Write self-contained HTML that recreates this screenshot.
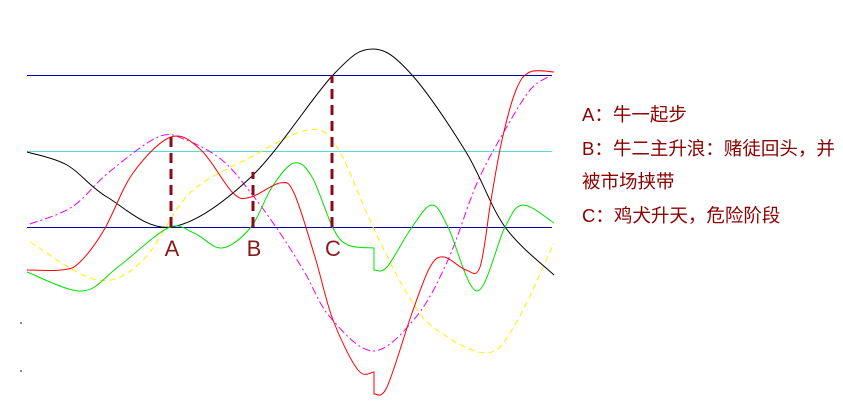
<!DOCTYPE html>
<html><head><meta charset="utf-8"><style>
body{margin:0;background:#fff;width:843px;height:413px;overflow:hidden;font-family:"Liberation Sans","Noto Sans CJK SC",sans-serif}
#legend{position:absolute;left:582px;top:98px;color:#8b0000;font-size:18.5px;line-height:33.5px;white-space:nowrap}
</style></head><body>
<svg id="chart" width="843" height="413" style="position:absolute;left:0;top:0">
<g id="lines"></g>
<circle cx="21" cy="323" r="0.8" fill="#000"/>
<circle cx="21" cy="371" r="0.8" fill="#000"/>
</svg>
<div id="legend">
<div>A：牛一起步</div>
<div>B：牛二主升浪：赌徒回头，并<br>被市场挟带</div>
<div>C：鸡犬升天，危险阶段</div>
</div>
<script>
const refLevels=[152,76,0];
const blackT=[0,40,80,144,224,306,346,385,439,478,527];
const blackV=[75,62,30,0,50,152,178,152,75,0,-48];
const redT1=[0,34,52,77,106,144,174,206,224,253,267,288,306,331,347];
const redV1=[-43,-43,-36,-3,54,90,77,34,30,44,34,-30,-93,-143,-145];
const redT2=[347,360,385,403,417,439,453,464,475,489,503,527];
const redV2=[-167,-160,-86,-40,-30,-43,-40,27,87,137,155,155];
const greenT1=[0,55,91,141,167,195,224,245,267,285,306,321,347];
const greenV1=[-45,-64,-40,-1,-6,-21,0,40,64,50,-1,-18,-21];
const greenT2=[347,360,385,405,421,450,478,496,527];
const greenV2=[-43,-40,0,22,0,-64,0,22,4];
const magT=[3,45,81,131,159,195,224,253,278,303,346,389,421,450,478,503,521];
const magV=[3,20,54,90,87,67,34,-6,-46,-90,-124,-90,-33,44,97,137,150];
const yelT=[3,70,116,163,224,281,310,346,382,410,460,489,527];
const yelV=[-15,-53,-33,34,70,97,80,0,-70,-103,-126,-96,-16];
const markT=[144,226,305];
const markTop=[92,55,152];
const markLabels=['A','B','C'];
const X=t=>27+t, Y=v=>227-v;
const NS='http://www.w3.org/2000/svg';
const g=document.getElementById('lines');
function cr(ts,vs){
  const p=ts.map((t,i)=>[X(t),Y(vs[i])]);
  let d='M'+p[0][0]+','+p[0][1];
  for(let i=0;i<p.length-1;i++){
    const p0=p[Math.max(0,i-1)],p1=p[i],p2=p[i+1],p3=p[Math.min(p.length-1,i+2)];
    d+='C'+(p1[0]+(p2[0]-p0[0])/6)+','+(p1[1]+(p2[1]-p0[1])/6)+' '+(p2[0]-(p3[0]-p1[0])/6)+','+(p2[1]-(p3[1]-p1[1])/6)+' '+p2[0]+','+p2[1];
  }
  return d;
}
function path(d,stroke,name,dash,w){
  const e=document.createElementNS(NS,'path');
  e.setAttribute('d',d);e.setAttribute('fill','none');e.setAttribute('stroke',stroke);
  e.setAttribute('stroke-width',w||1);if(dash)e.setAttribute('stroke-dasharray',dash);
  
  
  g.appendChild(e);return e;
}
const lvColors=['#0000aa','#55dddd','#0000aa'];
refLevels.forEach((v,i)=>{
  const e=path('M27,'+(Y(v)+0.5)+'H552',lvColors[i],'reference-line');
  e.setAttribute('shape-rendering','crispEdges');
});
path(cr(yelT,yelV),'#ffee00','yellow-series','6,4');
path(cr(magT,magV),'#ee00ee','magenta-series','8,3,2,3');
path(cr(blackT,blackV),'#000','black-series');
path(cr(greenT1,greenV1)+'L'+X(greenT2[0])+','+Y(greenV2[0])+cr(greenT2,greenV2).replace('M','L'),'#00e000','green-series');
path(cr(redT1,redV1)+cr(redT2,redV2).replace('M','L'),'#ff0000','red-series');
markT.forEach((t,i)=>{
  path('M'+X(t)+','+Y(0)+'V'+Y(markTop[i]),'#8b0a1a','marker-'+markLabels[i].toLowerCase(),'10,6',3);
  const tx=document.createElementNS(NS,'text');
  tx.setAttribute('x',X(t)+1);tx.setAttribute('y',256);tx.setAttribute('text-anchor','middle');
  tx.setAttribute('font-size','22');tx.setAttribute('fill','#8b1a1a');
  tx.setAttribute('font-family','Liberation Sans, sans-serif');
  tx.textContent=markLabels[i];
  
  
  g.appendChild(tx);
});
</script>
</body></html>
